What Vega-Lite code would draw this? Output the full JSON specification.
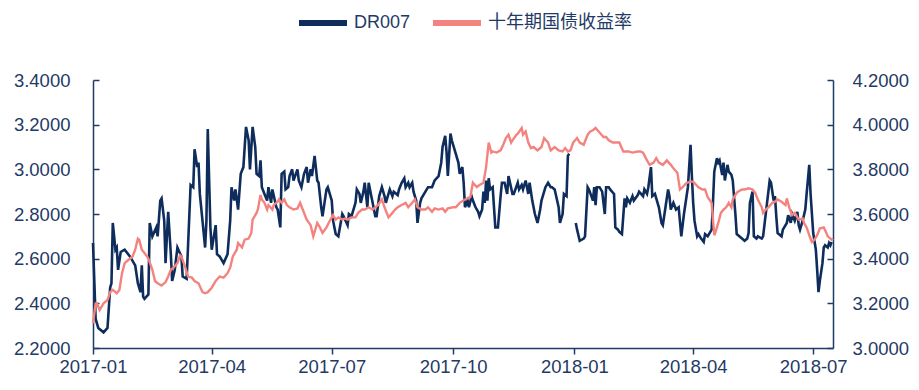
{
  "$schema": "https://vega.github.io/schema/vega-lite/v6.json",
  "width": 740,
  "height": 268,
  "autosize": {"type": "none"},
  "padding": {"left": 93, "top": 80, "right": 86, "bottom": 42},
  "background": "white",
  "config": {
    "view": {"stroke": null},
    "font": "Liberation Sans",
    "axis": {
      "grid": false,
      "domainColor": "#1f3b68",
      "domainWidth": 1.5,
      "tickColor": "#1f3b68",
      "tickWidth": 1.5,
      "labelColor": "#1f3a66",
      "labelFont": "Liberation Sans",
      "labelFontSize": 18.5,
      "title": null
    }
  },
  "datasets": {
    "dr": [
      {"d":"2017-01-01","v":2.67},{"d":"2017-01-03","v":2.33},{"d":"2017-01-05","v":2.29},{"d":"2017-01-09","v":2.27},{"d":"2017-01-12","v":2.29},{"d":"2017-01-14","v":2.47},{"d":"2017-01-15","v":2.49},{"d":"2017-01-16","v":2.76},{"d":"2017-01-18","v":2.64},{"d":"2017-01-19","v":2.65},{"d":"2017-01-20","v":2.55},{"d":"2017-01-22","v":2.63},{"d":"2017-01-25","v":2.64},{"d":"2017-01-29","v":2.61},{"d":"2017-02-02","v":2.57},{"d":"2017-02-04","v":2.49},{"d":"2017-02-06","v":2.45},{"d":"2017-02-07","v":2.57},{"d":"2017-02-08","v":2.43},{"d":"2017-02-09","v":2.42},{"d":"2017-02-12","v":2.44},{"d":"2017-02-13","v":2.76},{"d":"2017-02-15","v":2.70},{"d":"2017-02-18","v":2.74},{"d":"2017-02-19","v":2.70},{"d":"2017-02-21","v":2.86},{"d":"2017-02-22","v":2.87},{"d":"2017-02-24","v":2.77},{"d":"2017-02-25","v":2.58},{"d":"2017-02-27","v":2.81},{"d":"2017-03-01","v":2.62},{"d":"2017-03-02","v":2.50},{"d":"2017-03-04","v":2.55},{"d":"2017-03-06","v":2.65},{"d":"2017-03-09","v":2.61},{"d":"2017-03-10","v":2.52},{"d":"2017-03-13","v":2.51},{"d":"2017-03-16","v":2.93},{"d":"2017-03-18","v":2.92},{"d":"2017-03-19","v":3.09},{"d":"2017-03-21","v":3.01},{"d":"2017-03-22","v":3.03},{"d":"2017-03-23","v":2.89},{"d":"2017-03-25","v":2.77},{"d":"2017-03-27","v":2.65},{"d":"2017-03-28","v":2.77},{"d":"2017-03-29","v":3.18},{"d":"2017-03-31","v":2.74},{"d":"2017-04-01","v":2.64},{"d":"2017-04-04","v":2.75},{"d":"2017-04-05","v":2.62},{"d":"2017-04-07","v":2.61},{"d":"2017-04-10","v":2.58},{"d":"2017-04-13","v":2.62},{"d":"2017-04-15","v":2.77},{"d":"2017-04-16","v":2.92},{"d":"2017-04-18","v":2.86},{"d":"2017-04-19","v":2.91},{"d":"2017-04-21","v":2.82},{"d":"2017-04-23","v":2.98},{"d":"2017-04-25","v":3.01},{"d":"2017-04-27","v":3.19},{"d":"2017-04-29","v":3.13},{"d":"2017-04-30","v":3.00},{"d":"2017-05-02","v":3.19},{"d":"2017-05-04","v":3.10},{"d":"2017-05-05","v":2.98},{"d":"2017-05-07","v":2.97},{"d":"2017-05-08","v":3.04},{"d":"2017-05-09","v":2.92},{"d":"2017-05-11","v":2.89},{"d":"2017-05-13","v":2.86},{"d":"2017-05-14","v":2.92},{"d":"2017-05-16","v":2.85},{"d":"2017-05-17","v":2.91},{"d":"2017-05-20","v":2.83},{"d":"2017-05-21","v":2.82},{"d":"2017-05-23","v":2.74},{"d":"2017-05-24","v":2.98},{"d":"2017-05-26","v":2.99},{"d":"2017-05-27","v":2.91},{"d":"2017-05-29","v":2.92},{"d":"2017-05-30","v":2.97},{"d":"2017-06-01","v":3.00},{"d":"2017-06-02","v":2.95},{"d":"2017-06-05","v":3.00},{"d":"2017-06-06","v":2.95},{"d":"2017-06-08","v":2.92},{"d":"2017-06-10","v":2.98},{"d":"2017-06-12","v":3.01},{"d":"2017-06-13","v":2.94},{"d":"2017-06-15","v":3.00},{"d":"2017-06-16","v":2.97},{"d":"2017-06-18","v":3.06},{"d":"2017-06-20","v":2.95},{"d":"2017-06-21","v":2.94},{"d":"2017-06-23","v":2.83},{"d":"2017-06-24","v":2.79},{"d":"2017-06-27","v":2.91},{"d":"2017-06-28","v":2.92},{"d":"2017-07-01","v":2.86},{"d":"2017-07-02","v":2.77},{"d":"2017-07-04","v":2.71},{"d":"2017-07-06","v":2.70},{"d":"2017-07-09","v":2.80},{"d":"2017-07-10","v":2.79},{"d":"2017-07-13","v":2.75},{"d":"2017-07-14","v":2.80},{"d":"2017-07-16","v":2.79},{"d":"2017-07-19","v":2.85},{"d":"2017-07-20","v":2.91},{"d":"2017-07-22","v":2.89},{"d":"2017-07-23","v":2.85},{"d":"2017-07-25","v":2.90},{"d":"2017-07-26","v":2.94},{"d":"2017-07-28","v":2.83},{"d":"2017-07-29","v":2.94},{"d":"2017-07-31","v":2.88},{"d":"2017-08-01","v":2.85},{"d":"2017-08-03","v":2.79},{"d":"2017-08-04","v":2.79},{"d":"2017-08-06","v":2.88},{"d":"2017-08-08","v":2.92},{"d":"2017-08-10","v":2.88},{"d":"2017-08-11","v":2.85},{"d":"2017-08-13","v":2.89},{"d":"2017-08-14","v":2.91},{"d":"2017-08-16","v":2.88},{"d":"2017-08-17","v":2.90},{"d":"2017-08-20","v":2.885},{"d":"2017-08-21","v":2.91},{"d":"2017-08-23","v":2.94},{"d":"2017-08-25","v":2.96},{"d":"2017-08-26","v":2.92},{"d":"2017-08-28","v":2.94},{"d":"2017-08-29","v":2.92},{"d":"2017-08-31","v":2.94},{"d":"2017-09-01","v":2.90},{"d":"2017-09-03","v":2.86},{"d":"2017-09-04","v":2.76},{"d":"2017-09-06","v":2.85},{"d":"2017-09-07","v":2.87},{"d":"2017-09-10","v":2.90},{"d":"2017-09-12","v":2.92},{"d":"2017-09-15","v":2.92},{"d":"2017-09-17","v":2.95},{"d":"2017-09-20","v":2.97},{"d":"2017-09-22","v":3.03},{"d":"2017-09-23","v":3.10},{"d":"2017-09-25","v":3.15},{"d":"2017-09-26","v":3.08},{"d":"2017-09-27","v":2.97},{"d":"2017-09-29","v":3.16},{"d":"2017-09-30","v":3.13},{"d":"2017-10-03","v":3.07},{"d":"2017-10-05","v":3.03},{"d":"2017-10-06","v":2.98},{"d":"2017-10-08","v":3.01},{"d":"2017-10-09","v":2.94},{"d":"2017-10-10","v":2.83},{"d":"2017-10-12","v":2.86},{"d":"2017-10-13","v":2.83},{"d":"2017-10-15","v":2.88},{"d":"2017-10-16","v":2.86},{"d":"2017-10-18","v":2.83},{"d":"2017-10-20","v":2.81},{"d":"2017-10-21","v":2.79},{"d":"2017-10-23","v":2.82},{"d":"2017-10-24","v":2.90},{"d":"2017-10-25","v":2.85},{"d":"2017-10-26","v":2.95},{"d":"2017-10-27","v":2.86},{"d":"2017-10-28","v":2.96},{"d":"2017-10-29","v":2.91},{"d":"2017-10-31","v":2.92},{"d":"2017-11-01","v":2.83},{"d":"2017-11-02","v":2.74},{"d":"2017-11-04","v":2.74},{"d":"2017-11-06","v":2.88},{"d":"2017-11-07","v":2.94},{"d":"2017-11-09","v":2.94},{"d":"2017-11-11","v":2.89},{"d":"2017-11-12","v":2.97},{"d":"2017-11-15","v":2.89},{"d":"2017-11-16","v":2.89},{"d":"2017-11-19","v":2.94},{"d":"2017-11-20","v":2.91},{"d":"2017-11-22","v":2.93},{"d":"2017-11-23","v":2.91},{"d":"2017-11-25","v":2.95},{"d":"2017-11-27","v":2.89},{"d":"2017-11-28","v":2.94},{"d":"2017-11-30","v":2.86},{"d":"2017-12-02","v":2.80},{"d":"2017-12-04","v":2.76},{"d":"2017-12-06","v":2.82},{"d":"2017-12-07","v":2.86},{"d":"2017-12-10","v":2.92},{"d":"2017-12-12","v":2.94},{"d":"2017-12-14","v":2.92},{"d":"2017-12-15","v":2.92},{"d":"2017-12-17","v":2.91},{"d":"2017-12-20","v":2.83},{"d":"2017-12-21","v":2.76},{"d":"2017-12-23","v":2.80},{"d":"2017-12-24","v":2.89},{"d":"2017-12-26","v":2.88},{"d":"2017-12-27","v":3.06},{"d":"2017-12-28","v":3.07},{"d":"2017-12-31","v":null},{"d":"2018-01-02","v":2.76},{"d":"2018-01-03","v":2.73},{"d":"2018-01-05","v":2.68},{"d":"2018-01-08","v":2.69},{"d":"2018-01-09","v":2.70},{"d":"2018-01-11","v":2.92},{"d":"2018-01-12","v":2.91},{"d":"2018-01-15","v":2.86},{"d":"2018-01-16","v":2.92},{"d":"2018-01-17","v":2.84},{"d":"2018-01-18","v":2.92},{"d":"2018-01-20","v":2.92},{"d":"2018-01-22","v":2.90},{"d":"2018-01-24","v":2.80},{"d":"2018-01-25","v":2.92},{"d":"2018-01-27","v":2.92},{"d":"2018-01-28","v":2.91},{"d":"2018-01-31","v":2.89},{"d":"2018-02-01","v":2.74},{"d":"2018-02-03","v":2.73},{"d":"2018-02-04","v":2.72},{"d":"2018-02-06","v":2.71},{"d":"2018-02-08","v":2.87},{"d":"2018-02-09","v":2.83},{"d":"2018-02-10","v":2.87},{"d":"2018-02-12","v":2.85},{"d":"2018-02-14","v":2.88},{"d":"2018-02-15","v":2.86},{"d":"2018-02-18","v":2.885},{"d":"2018-02-19","v":2.90},{"d":"2018-02-22","v":2.88},{"d":"2018-02-23","v":2.91},{"d":"2018-02-25","v":2.89},{"d":"2018-02-26","v":2.92},{"d":"2018-02-28","v":3.01},{"d":"2018-03-01","v":2.88},{"d":"2018-03-03","v":2.89},{"d":"2018-03-04","v":2.87},{"d":"2018-03-06","v":2.83},{"d":"2018-03-08","v":2.76},{"d":"2018-03-09","v":2.75},{"d":"2018-03-11","v":2.83},{"d":"2018-03-13","v":2.91},{"d":"2018-03-14","v":2.88},{"d":"2018-03-15","v":2.82},{"d":"2018-03-17","v":2.85},{"d":"2018-03-19","v":2.82},{"d":"2018-03-21","v":2.83},{"d":"2018-03-23","v":2.70},{"d":"2018-03-25","v":2.80},{"d":"2018-03-28","v":2.92},{"d":"2018-03-30","v":3.11},{"d":"2018-03-31","v":2.97},{"d":"2018-04-01","v":2.85},{"d":"2018-04-02","v":2.77},{"d":"2018-04-04","v":2.70},{"d":"2018-04-05","v":2.71},{"d":"2018-04-07","v":2.69},{"d":"2018-04-09","v":2.675},{"d":"2018-04-10","v":2.71},{"d":"2018-04-12","v":2.70},{"d":"2018-04-13","v":2.71},{"d":"2018-04-15","v":2.73},{"d":"2018-04-16","v":2.85},{"d":"2018-04-17","v":2.99},{"d":"2018-04-19","v":3.05},{"d":"2018-04-20","v":3.03},{"d":"2018-04-21","v":3.04},{"d":"2018-04-23","v":2.975},{"d":"2018-04-24","v":3.03},{"d":"2018-04-25","v":2.95},{"d":"2018-04-27","v":3.02},{"d":"2018-04-28","v":2.99},{"d":"2018-04-30","v":2.975},{"d":"2018-05-01","v":2.95},{"d":"2018-05-03","v":2.80},{"d":"2018-05-04","v":2.71},{"d":"2018-05-06","v":2.70},{"d":"2018-05-08","v":2.69},{"d":"2018-05-10","v":2.68},{"d":"2018-05-12","v":2.69},{"d":"2018-05-13","v":2.715},{"d":"2018-05-14","v":2.85},{"d":"2018-05-16","v":2.90},{"d":"2018-05-17","v":2.70},{"d":"2018-05-19","v":2.69},{"d":"2018-05-20","v":2.70},{"d":"2018-05-23","v":2.69},{"d":"2018-05-24","v":2.70},{"d":"2018-05-26","v":2.80},{"d":"2018-05-27","v":2.85},{"d":"2018-05-29","v":2.95},{"d":"2018-05-30","v":2.94},{"d":"2018-06-01","v":2.86},{"d":"2018-06-02","v":2.88},{"d":"2018-06-03","v":2.79},{"d":"2018-06-04","v":2.715},{"d":"2018-06-07","v":2.70},{"d":"2018-06-08","v":2.73},{"d":"2018-06-11","v":2.76},{"d":"2018-06-12","v":2.795},{"d":"2018-06-14","v":2.76},{"d":"2018-06-15","v":2.80},{"d":"2018-06-17","v":2.77},{"d":"2018-06-19","v":2.81},{"d":"2018-06-20","v":2.75},{"d":"2018-06-21","v":2.73},{"d":"2018-06-23","v":2.77},{"d":"2018-06-25","v":2.82},{"d":"2018-06-26","v":2.89},{"d":"2018-06-28","v":3.02},{"d":"2018-06-29","v":2.89},{"d":"2018-07-01","v":2.715},{"d":"2018-07-03","v":2.64},{"d":"2018-07-04","v":2.55},{"d":"2018-07-05","v":2.45},{"d":"2018-07-06","v":2.50},{"d":"2018-07-08","v":2.58},{"d":"2018-07-09","v":2.65},{"d":"2018-07-10","v":2.66},{"d":"2018-07-12","v":2.65},{"d":"2018-07-13","v":2.67},{"d":"2018-07-14","v":2.66},{"d":"2018-07-15","v":2.675}
    ],
    "bond": [
      {"d":"2017-01-01","v":3.11},{"d":"2017-01-03","v":3.20},{"d":"2017-01-04","v":3.20},{"d":"2017-01-06","v":3.17},{"d":"2017-01-09","v":3.20},{"d":"2017-01-12","v":3.215},{"d":"2017-01-14","v":3.25},{"d":"2017-01-16","v":3.26},{"d":"2017-01-19","v":3.245},{"d":"2017-01-21","v":3.26},{"d":"2017-01-23","v":3.335},{"d":"2017-01-25","v":3.38},{"d":"2017-01-28","v":3.395},{"d":"2017-01-31","v":3.41},{"d":"2017-02-02","v":3.44},{"d":"2017-02-04","v":3.49},{"d":"2017-02-05","v":3.485},{"d":"2017-02-07","v":3.44},{"d":"2017-02-09","v":3.425},{"d":"2017-02-11","v":3.41},{"d":"2017-02-12","v":3.40},{"d":"2017-02-15","v":3.35},{"d":"2017-02-17","v":3.30},{"d":"2017-02-19","v":3.29},{"d":"2017-02-22","v":3.28},{"d":"2017-02-25","v":3.295},{"d":"2017-02-27","v":3.32},{"d":"2017-03-01","v":3.35},{"d":"2017-03-03","v":3.36},{"d":"2017-03-06","v":3.38},{"d":"2017-03-08","v":3.415},{"d":"2017-03-09","v":3.41},{"d":"2017-03-12","v":3.36},{"d":"2017-03-14","v":3.32},{"d":"2017-03-17","v":3.315},{"d":"2017-03-19","v":3.30},{"d":"2017-03-22","v":3.29},{"d":"2017-03-25","v":3.25},{"d":"2017-03-27","v":3.245},{"d":"2017-03-29","v":3.25},{"d":"2017-04-01","v":3.27},{"d":"2017-04-04","v":3.30},{"d":"2017-04-07","v":3.32},{"d":"2017-04-10","v":3.315},{"d":"2017-04-13","v":3.335},{"d":"2017-04-15","v":3.36},{"d":"2017-04-17","v":3.41},{"d":"2017-04-20","v":3.44},{"d":"2017-04-21","v":3.47},{"d":"2017-04-24","v":3.45},{"d":"2017-04-26","v":3.485},{"d":"2017-04-29","v":3.49},{"d":"2017-05-01","v":3.515},{"d":"2017-05-02","v":3.575},{"d":"2017-05-05","v":3.605},{"d":"2017-05-06","v":3.62},{"d":"2017-05-08","v":3.685},{"d":"2017-05-09","v":3.665},{"d":"2017-05-11","v":3.65},{"d":"2017-05-13","v":3.62},{"d":"2017-05-14","v":3.64},{"d":"2017-05-17","v":3.62},{"d":"2017-05-18","v":3.64},{"d":"2017-05-21","v":3.655},{"d":"2017-05-22","v":3.665},{"d":"2017-05-24","v":3.65},{"d":"2017-05-26","v":3.665},{"d":"2017-05-28","v":3.64},{"d":"2017-05-30","v":3.63},{"d":"2017-06-02","v":3.62},{"d":"2017-06-05","v":3.625},{"d":"2017-06-07","v":3.65},{"d":"2017-06-09","v":3.62},{"d":"2017-06-12","v":3.575},{"d":"2017-06-15","v":3.55},{"d":"2017-06-17","v":3.50},{"d":"2017-06-20","v":3.56},{"d":"2017-06-22","v":3.54},{"d":"2017-06-24","v":3.515},{"d":"2017-06-27","v":3.54},{"d":"2017-06-30","v":3.575},{"d":"2017-07-02","v":3.595},{"d":"2017-07-04","v":3.575},{"d":"2017-07-06","v":3.585},{"d":"2017-07-09","v":3.575},{"d":"2017-07-11","v":3.58},{"d":"2017-07-13","v":3.575},{"d":"2017-07-16","v":3.585},{"d":"2017-07-19","v":3.585},{"d":"2017-07-21","v":3.605},{"d":"2017-07-24","v":3.62},{"d":"2017-07-26","v":3.62},{"d":"2017-07-29","v":3.63},{"d":"2017-08-01","v":3.62},{"d":"2017-08-03","v":3.63},{"d":"2017-08-05","v":3.64},{"d":"2017-08-08","v":3.665},{"d":"2017-08-10","v":3.63},{"d":"2017-08-13","v":3.585},{"d":"2017-08-16","v":3.605},{"d":"2017-08-18","v":3.62},{"d":"2017-08-20","v":3.63},{"d":"2017-08-23","v":3.64},{"d":"2017-08-26","v":3.65},{"d":"2017-08-28","v":3.63},{"d":"2017-08-31","v":3.65},{"d":"2017-09-02","v":3.665},{"d":"2017-09-04","v":3.63},{"d":"2017-09-07","v":3.62},{"d":"2017-09-10","v":3.62},{"d":"2017-09-12","v":3.63},{"d":"2017-09-15","v":3.61},{"d":"2017-09-17","v":3.625},{"d":"2017-09-20","v":3.62},{"d":"2017-09-23","v":3.625},{"d":"2017-09-25","v":3.61},{"d":"2017-09-27","v":3.625},{"d":"2017-10-01","v":3.63},{"d":"2017-10-03","v":3.63},{"d":"2017-10-06","v":3.65},{"d":"2017-10-10","v":3.665},{"d":"2017-10-14","v":3.675},{"d":"2017-10-16","v":3.74},{"d":"2017-10-19","v":3.72},{"d":"2017-10-21","v":3.73},{"d":"2017-10-24","v":3.74},{"d":"2017-10-26","v":3.81},{"d":"2017-10-28","v":3.92},{"d":"2017-10-30","v":3.875},{"d":"2017-10-31","v":3.88},{"d":"2017-11-03","v":3.875},{"d":"2017-11-06","v":3.885},{"d":"2017-11-08","v":3.91},{"d":"2017-11-10","v":3.94},{"d":"2017-11-12","v":3.955},{"d":"2017-11-14","v":3.92},{"d":"2017-11-15","v":3.93},{"d":"2017-11-18","v":3.955},{"d":"2017-11-19","v":3.96},{"d":"2017-11-22","v":3.985},{"d":"2017-11-23","v":3.955},{"d":"2017-11-25","v":3.97},{"d":"2017-11-27","v":3.92},{"d":"2017-11-29","v":3.895},{"d":"2017-12-01","v":3.90},{"d":"2017-12-04","v":3.885},{"d":"2017-12-07","v":3.90},{"d":"2017-12-09","v":3.94},{"d":"2017-12-12","v":3.92},{"d":"2017-12-14","v":3.885},{"d":"2017-12-17","v":3.90},{"d":"2017-12-20","v":3.885},{"d":"2017-12-23","v":3.88},{"d":"2017-12-25","v":3.895},{"d":"2017-12-27","v":3.88},{"d":"2017-12-29","v":3.885},{"d":"2017-12-31","v":3.92},{"d":"2018-01-03","v":3.94},{"d":"2018-01-05","v":3.92},{"d":"2018-01-08","v":3.91},{"d":"2018-01-11","v":3.955},{"d":"2018-01-13","v":3.97},{"d":"2018-01-15","v":3.975},{"d":"2018-01-17","v":3.985},{"d":"2018-01-20","v":3.965},{"d":"2018-01-23","v":3.945},{"d":"2018-01-25","v":3.945},{"d":"2018-01-27","v":3.93},{"d":"2018-01-30","v":3.92},{"d":"2018-02-02","v":3.92},{"d":"2018-02-04","v":3.92},{"d":"2018-02-07","v":3.88},{"d":"2018-02-09","v":3.88},{"d":"2018-02-11","v":3.88},{"d":"2018-02-14","v":3.875},{"d":"2018-02-18","v":3.88},{"d":"2018-02-20","v":3.88},{"d":"2018-02-22","v":3.875},{"d":"2018-02-25","v":3.84},{"d":"2018-02-27","v":3.82},{"d":"2018-03-02","v":3.83},{"d":"2018-03-04","v":3.85},{"d":"2018-03-06","v":3.83},{"d":"2018-03-09","v":3.82},{"d":"2018-03-12","v":3.84},{"d":"2018-03-15","v":3.82},{"d":"2018-03-17","v":3.805},{"d":"2018-03-20","v":3.785},{"d":"2018-03-22","v":3.71},{"d":"2018-03-24","v":3.72},{"d":"2018-03-27","v":3.74},{"d":"2018-03-30","v":3.745},{"d":"2018-04-01","v":3.745},{"d":"2018-04-05","v":3.72},{"d":"2018-04-08","v":3.71},{"d":"2018-04-10","v":3.71},{"d":"2018-04-12","v":3.675},{"d":"2018-04-15","v":3.65},{"d":"2018-04-16","v":3.575},{"d":"2018-04-17","v":3.505},{"d":"2018-04-18","v":3.52},{"d":"2018-04-20","v":3.56},{"d":"2018-04-22","v":3.605},{"d":"2018-04-24","v":3.62},{"d":"2018-04-26","v":3.63},{"d":"2018-04-28","v":3.65},{"d":"2018-04-30","v":3.63},{"d":"2018-05-01","v":3.665},{"d":"2018-05-04","v":3.695},{"d":"2018-05-05","v":3.70},{"d":"2018-05-08","v":3.71},{"d":"2018-05-10","v":3.71},{"d":"2018-05-13","v":3.715},{"d":"2018-05-16","v":3.71},{"d":"2018-05-18","v":3.695},{"d":"2018-05-20","v":3.665},{"d":"2018-05-23","v":3.63},{"d":"2018-05-24","v":3.605},{"d":"2018-05-26","v":3.62},{"d":"2018-05-28","v":3.63},{"d":"2018-05-31","v":3.65},{"d":"2018-06-02","v":3.655},{"d":"2018-06-04","v":3.665},{"d":"2018-06-07","v":3.655},{"d":"2018-06-10","v":3.64},{"d":"2018-06-11","v":3.67},{"d":"2018-06-13","v":3.625},{"d":"2018-06-15","v":3.595},{"d":"2018-06-17","v":3.605},{"d":"2018-06-19","v":3.585},{"d":"2018-06-20","v":3.575},{"d":"2018-06-23","v":3.58},{"d":"2018-06-24","v":3.56},{"d":"2018-06-26","v":3.54},{"d":"2018-06-28","v":3.505},{"d":"2018-06-30","v":3.475},{"d":"2018-07-02","v":3.485},{"d":"2018-07-04","v":3.505},{"d":"2018-07-06","v":3.535},{"d":"2018-07-09","v":3.54},{"d":"2018-07-11","v":3.515},{"d":"2018-07-12","v":3.50},{"d":"2018-07-15","v":3.485},{"d":"2018-07-16","v":3.49}
    ]
  },
  "layer": [
    {
      "data": {"name": "dr"},
      "mark": {"type": "line", "strokeWidth": 2.6, "invalid": "break-paths-show-domains"},
      "encoding": {
        "x": {
          "field": "d",
          "type": "temporal",
          "scale": {
            "type": "utc",
            "nice": false,
            "domain": [
              {"year": 2017, "month": 1, "date": 1, "utc": true},
              {"year": 2018, "month": 7, "date": 16, "utc": true}
            ]
          },
          "axis": {
            "labelExpr": "utcFormat(datum.value, '%Y-%m')",
            "values": [
              {"year": 2017, "month": 1, "date": 1, "utc": true},
              {"year": 2017, "month": 4, "date": 1, "utc": true},
              {"year": 2017, "month": 7, "date": 1, "utc": true},
              {"year": 2017, "month": 10, "date": 1, "utc": true},
              {"year": 2018, "month": 1, "date": 1, "utc": true},
              {"year": 2018, "month": 4, "date": 1, "utc": true},
              {"year": 2018, "month": 7, "date": 1, "utc": true}
            ],
            "tickSize": 6,
            "labelPadding": 3,
            "labelFlush": false,
            "labelOverlap": false
          }
        },
        "y": {
          "field": "v",
          "type": "quantitative",
          "scale": {"domain": [2.2, 3.4], "nice": false, "zero": false},
          "axis": {
            "orient": "left",
            "values": [2.2, 2.4, 2.6, 2.8, 3.0, 3.2, 3.4],
            "format": ".4f",
            "tickSize": -6,
            "labelPadding": 29
          }
        },
        "color": {
          "datum": "DR007",
          "type": "nominal",
          "scale": {"domain": ["DR007", "十年期国债收益率"], "range": ["#0f2d5c", "#f4837f"]},
          "legend": {
            "orient": "none",
            "legendX": 203,
            "legendY": -84,
            "direction": "horizontal",
            "title": null,
            "symbolType": "stroke",
            "symbolSize": 2304,
            "symbolStrokeWidth": 6,
            "labelFont": "Liberation Sans, Noto Sans CJK SC",
            "labelFontSize": 18,
            "labelColor": "#1f3a66",
            "labelOffset": 4,
            "columnPadding": 10
          }
        }
      }
    },
    {
      "data": {"name": "bond"},
      "mark": {"type": "line", "strokeWidth": 2.4},
      "encoding": {
        "x": {"field": "d", "type": "temporal"},
        "y": {
          "field": "v",
          "type": "quantitative",
          "scale": {"domain": [3.0, 4.2], "nice": false, "zero": false},
          "axis": {
            "orient": "right",
            "values": [3.0, 3.2, 3.4, 3.6, 3.8, 4.0, 4.2],
            "format": ".4f",
            "tickSize": -6,
            "labelPadding": 25
          }
        },
        "color": {"datum": "十年期国债收益率", "type": "nominal"}
      }
    }
  ],
  "resolve": {"scale": {"y": "independent"}}
}
